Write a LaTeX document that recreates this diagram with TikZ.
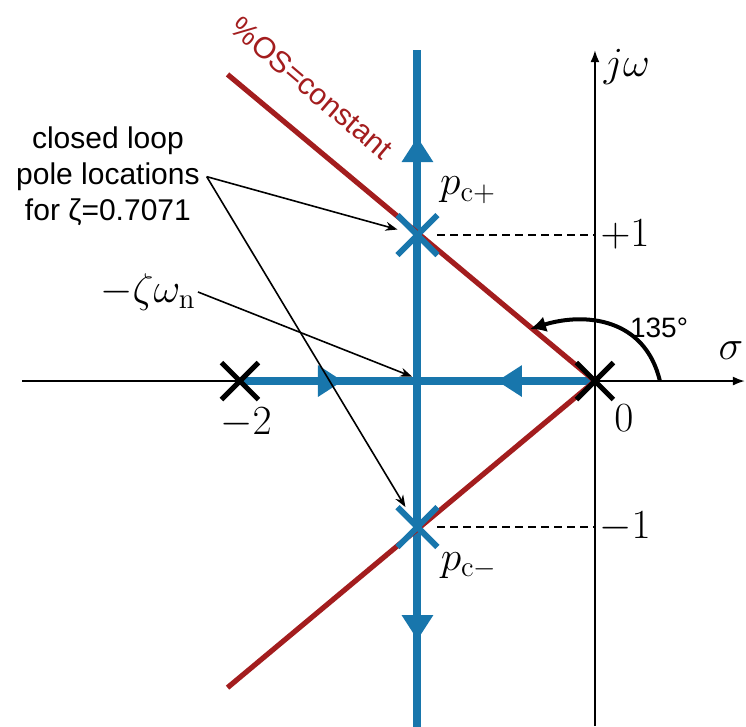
\documentclass[tikz,border=0pt]{standalone}
\usepackage{amsmath}
\usepackage{amssymb}
\usepackage{fontspec}
\usepackage{xcolor}
\usepackage{tikz}
\usetikzlibrary{arrows.meta,shapes.misc}
\newfontfamily\arialfont{Liberation Sans}
\definecolor{locusblue}{RGB}{24,118,172}
\definecolor{osred}{RGB}{163,29,30}

\begin{document}
\begin{tikzpicture}[x=88.75pt, y=73pt,
  axis/.style={line width=1pt, -{Latex[length=6pt,width=4.5pt]}},
  locus/.style={locusblue, line width=4pt},
  locarrow/.style={locus, -{Triangle[length=12.5pt,width=15pt]}},
  osline/.style={osred, line width=2.6pt},
  olpole/.style={cross out, draw, line width=2.5pt, minimum size=16pt, inner sep=0pt},
  clpole/.style={cross out, draw=locusblue, line width=3pt, minimum size=17pt, inner sep=0pt},
  mlabel/.style={font=\fontsize{20.74}{24}\selectfont, inner sep=1pt},
  note/.style={font=\arialfont\fontsize{15}{18}\selectfont, align=center},
  pointer/.style={line width=0.8pt, -{Stealth[length=6pt,width=4.5pt]}}]
  \useasboundingbox (-3.352,-2.363) rectangle (0.851,2.610);

  % axes
  \coordinate (west) at (-3.228,0);
  \coordinate (east) at (0.845,0);
  \coordinate (south) at (0,-2.363);
  \coordinate (north) at (0,2.267);
  \draw[axis] (west) -- (east);
  \draw[axis] (south) -- (north);

  % root locus
  \draw[locus] (-1,2.267) -- (-1,-2.4);
  \draw[locus] (-2,0) -- (0,0);
  \draw[locarrow] (-1,1) -- (-1,1.671);
  \draw[locarrow] (-1,-1) -- (-1,-1.774);
  \draw[locarrow] (-2,0) -- (-1.42,0);
  \draw[locarrow] (0,0) -- (-0.552,0);

  % constant %OS lines
  \coordinate (O) at (0,0);
  \draw[osline] (-2.07,2.1) -- (O) -- (-2.07,-2.1);
  \node[text=osred, font=\arialfont\fontsize{15}{18}\selectfont, rotate=-40.4] (oslabel) at (-1.594,2.007) {\%OS=constant};

  % poles
  \node[olpole] (p1) at (-2,0) {};
  \node[olpole] (p0) at (0,0) {};
  \node[clpole] (pcp) at (-1,1) {};
  \node[clpole] (pcm) at (-1,-1) {};
  \coordinate (im1) at (0,1);
  \coordinate (imm1) at (0,-1);
  \draw[line width=1pt, dash pattern=on 4pt off 2.5pt] (pcp) -- (im1);
  \draw[line width=1pt, dash pattern=on 4pt off 2.5pt] (pcm) -- (imm1);

  % labels
  \node[mlabel] (lm2) at (-1.966,-0.288) {$-2$};
  \node[mlabel] (l0) at (0.163,-0.253) {$0$};
  \node[mlabel] (lp1) at (0.169,1.007) {$+1$};
  \node[mlabel] (lm1) at (0.169,-1.0) {$-1$};
  \node[mlabel] (sig) at (0.766,0.212) {$\sigma$};
  \node[mlabel] (jw) at (0.180,2.151) {$j\omega$};
  \node[mlabel] (lpcp) at (-0.715,1.308) {$p_{\mathrm{c}+}$};
  \node[mlabel] (lpcm) at (-0.710,-1.267) {$p_{\mathrm{c}-}$};

  % angle
  \coordinate (arcstart) at (0.366,0);
  \coordinate (arcend) at (-0.366,0.356);
  \draw[line width=2pt, -{Latex[length=8pt,width=8pt]}] (arcstart) .. controls (0.282,0.432) and (-0.056,0.473) .. (arcend);
  \node[font=\arialfont\fontsize{14}{16}\selectfont] (ang) at (0.361,0.363) {135°};

  % notes
  \node[note] (clnote) at (-2.744,1.40) {closed loop\\pole locations\\for ζ=0.7071};
  \node[mlabel] (zwn) at (-2.518,0.610) {$-\zeta\omega_{\mathrm{n}}$};
  \coordinate (zwntip) at (-1.03,0.03);
  \draw[pointer] (clnote.east) -- (pcp);
  \draw[pointer] (clnote.east) -- (pcm);
  \draw[pointer] (zwn.east) -- (zwntip);
\end{tikzpicture}
\end{document}
